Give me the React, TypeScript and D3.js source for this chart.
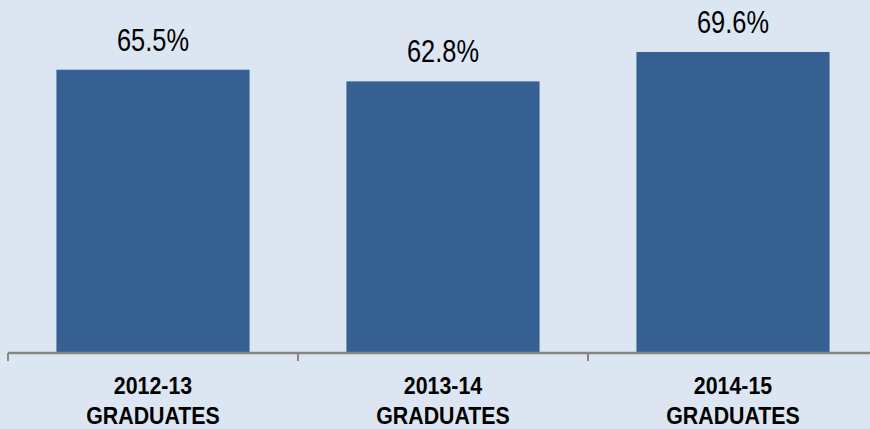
import React from "react";
import * as d3 from "d3";

const categories: string[] = ["2012-13", "2013-14", "2014-15"];
const subLabel: string[] = ["GRADUATES", "GRADUATES", "GRADUATES"];
const values: number[] = [65.5, 62.8, 69.6];

const W = 870;
const H = 429;
const FONT = "'Liberation Sans', Arial, sans-serif";

export default function App() {
  const x = d3.scaleBand<string>().domain(categories).range([8, 878]).paddingInner(0.334).paddingOuter(0.167);
  const y = d3.scaleLinear().domain([0, 80]).range([353, 7]);
  const step = x.step();
  const axisStart = 8;
  return (
    <svg width={W} height={H} style={{ position: "absolute", left: 0, top: 0, display: "block" }}>
      <rect x={0} y={0} width={W} height={H} fill="#dce6f2" />
      {categories.map((c, i) => {
        const cx = x(c)! + x.bandwidth() / 2;
        return (
          <g key={c}>
            <rect x={x(c)} y={y(values[i])} width={x.bandwidth()} height={y(0) - y(values[i])} fill="#376092" />
            <g transform={`translate(${cx},${y(values[i]) - 19}) scale(0.82,1)`}>
              <text x={0} y={0} textAnchor="middle" fontFamily={FONT} fontSize={31} fill="#000">
                {values[i].toFixed(1)}%
              </text>
            </g>
            <g transform={`translate(${cx},394) scale(0.89,1)`}>
              <text x={0} y={0} textAnchor="middle" fontFamily={FONT} fontSize={24} fontWeight="bold" fill="#000">
                {c}
              </text>
            </g>
            <g transform={`translate(${cx},424) scale(0.89,1)`}>
              <text x={0} y={0} textAnchor="middle" fontFamily={FONT} fontSize={24} fontWeight="bold" fill="#000">
                {subLabel[i]}
              </text>
            </g>
          </g>
        );
      })}
      <line x1={axisStart} x2={878} y1={y(0)} y2={y(0)} stroke="#868686" strokeWidth={2.5} />
      {d3.range(categories.length + 1).map((k) => (
        <line key={k} x1={axisStart + k * step} x2={axisStart + k * step} y1={y(0)} y2={y(0) + 8} stroke="#868686" strokeWidth={2} />
      ))}
    </svg>
  );
}
